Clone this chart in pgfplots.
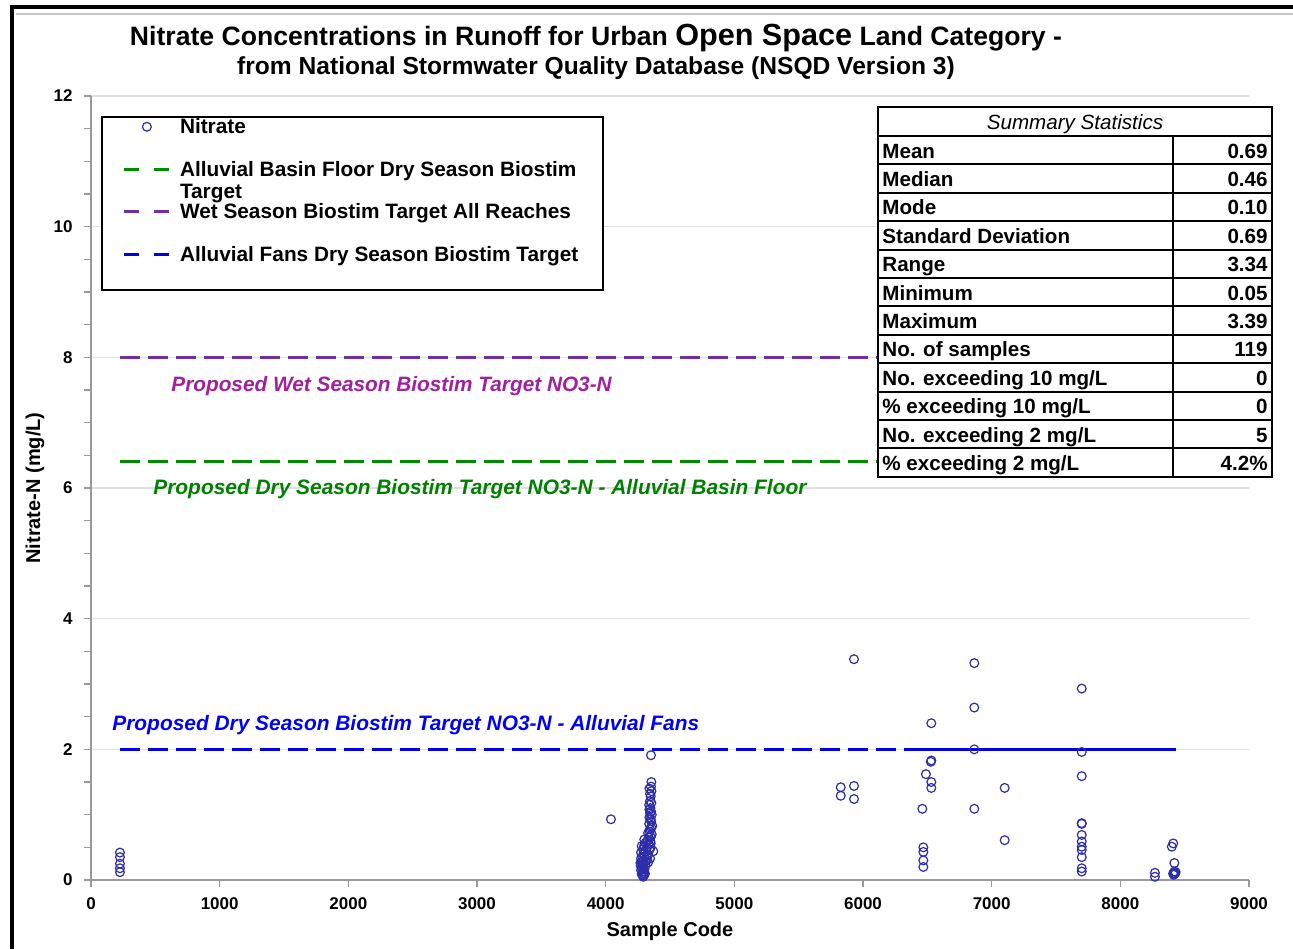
\documentclass[border=0pt]{standalone}
\usepackage{pgfplots}
\pgfplotsset{compat=1.18}
\usepackage{fontspec}
\setmainfont{Liberation Sans}
\definecolor{mk}{RGB}{45,45,170}
\definecolor{pline}{RGB}{112,48,160}
\definecolor{ptext}{RGB}{160,32,160}
\definecolor{gline}{RGB}{0,140,0}
\definecolor{gtext}{RGB}{0,128,0}
\definecolor{bline}{RGB}{0,0,230}
\definecolor{btext}{RGB}{0,0,255}
\newcommand\lgE[1]{\makebox[201pt][l]{\rule{0pt}{8.5pt}#1}}
\pgfplotsset{
  dashleg/.style={legend image code/.code={\draw[##1, dash pattern=on 7.5pt off 7.5pt] (0pt,0pt) -- (22.5pt,0pt);}},
  markleg/.style={legend image code/.code={\path[draw=none, fill=none] (0pt,0pt) -- (22.5pt,0pt); \draw[##1, draw=none] plot coordinates {(11.25pt,0pt)};}},
}
\begin{document}
\begin{tikzpicture}
\path[use as bounding box] (0,0) rectangle (646.5pt,-474.5pt);
\begin{axis}[
  at={(45.5pt,-440pt)}, anchor=south west,
  scale only axis, width=579pt, height=392pt,
  xmin=0, xmax=9000, ymin=0, ymax=12,
  axis lines*=left,
  axis line style={draw=gray!80, line width=0.8pt},
  tick align=outside,
  tick style={draw=gray!80, line width=0.6pt},
  major tick length=3.5pt, minor tick length=3.5pt,
  xtick={0,1000,...,9000}, ytick={0,2,...,12}, minor y tick num=3,
  ymajorgrids, grid style={draw=gray!25, line width=0.6pt},
  /pgf/number format/assume math mode=true,
  /pgf/number format/1000 sep={},
  xticklabel style={font=\bfseries\fontsize{8.5}{10}\selectfont, yshift=-2pt},
  yticklabel style={font=\bfseries\fontsize{8.5}{10}\selectfont, xshift=-2.2pt},
  xlabel={Sample Code}, ylabel={Nitrate-N (mg/L)},
  xlabel style={at={(axis description cs:0.5,-0.066)}, anchor=center, font=\bfseries\fontsize{10}{12}\selectfont},
  ylabel style={at={(axis description cs:-0.0484,0.5)}, anchor=center, font=\bfseries\fontsize{10}{12}\selectfont},
  legend style={at={(rel axis cs:0.00864,0.9745)}, anchor=north west, draw=black, line width=0.8pt, fill=white,
    font=\bfseries\fontsize{10.4}{12}\selectfont, inner xsep=10.5pt, inner ysep=0pt, row sep=11.25pt, column sep=4.5pt,
    nodes={inner sep=0pt}},
  legend cell align=left,
]
\addplot[only marks, mark=o, mark size=2.2pt, mark options={draw=mk, line width=0.6pt}, markleg]
 table[row sep=\\] {
x y\\
225 0.42\\ 225 0.35\\ 225 0.25\\ 225 0.18\\ 225 0.12\\
4041 0.93\\
4352 1.91\\ 4355 1.50\\ 4352 1.43\\ 4356 1.36\\ 4350 1.28\\ 4345 1.21\\ 4338 1.15\\ 4348 1.10\\ 4352 1.05\\ 4358 1.00\\
4340 0.96\\ 4352 0.90\\ 4362 0.83\\ 4345 0.78\\ 4358 0.70\\ 4335 0.65\\ 4300 0.62\\ 4348 0.59\\ 4280 0.52\\ 4320 0.49\\
4370 0.44\\ 4295 0.41\\ 4285 0.35\\ 4320 0.31\\ 4270 0.26\\ 4292 0.20\\ 4285 0.13\\ 4292 0.05\\
4340 1.40\\ 4345 1.32\\ 4355 1.18\\ 4340 1.08\\ 4345 1.02\\ 4350 0.93\\ 4338 0.86\\ 4355 0.80\\ 4342 0.74\\ 4330 0.72\\
4350 0.66\\ 4325 0.60\\ 4310 0.57\\ 4335 0.55\\ 4300 0.53\\ 4350 0.50\\ 4290 0.47\\ 4340 0.46\\ 4310 0.44\\ 4275 0.42\\
4330 0.38\\ 4300 0.36\\ 4275 0.33\\ 4345 0.33\\ 4310 0.29\\ 4282 0.28\\ 4298 0.25\\ 4272 0.22\\ 4310 0.22\\ 4282 0.18\\
4300 0.16\\ 4275 0.15\\ 4295 0.11\\ 4280 0.09\\ 4300 0.08\\ 4288 0.07\\ 4295 0.30\\ 4318 0.38\\ 4350 0.56\\ 4305 0.10\\
4330 0.27\\ 4285 0.24\\
5827 1.42\\ 5827 1.29\\ 5930 1.44\\ 5930 1.24\\ 5930 3.38\\
6531 2.40\\ 6531 1.83\\ 6527 1.81\\ 6489 1.62\\ 6531 1.50\\ 6531 1.41\\ 6461 1.09\\ 6469 0.50\\ 6469 0.43\\ 6469 0.30\\ 6469 0.20\\
6865 3.32\\ 6865 2.64\\ 6865 2.00\\ 6865 1.09\\
7101 1.41\\ 7101 0.61\\
7700 2.93\\ 7700 1.96\\ 7700 1.59\\ 7700 0.87\\ 7700 0.86\\ 7700 0.69\\ 7700 0.59\\ 7700 0.51\\ 7700 0.46\\ 7700 0.35\\ 7700 0.18\\ 7700 0.13\\
8269 0.11\\ 8269 0.05\\
8411 0.56\\ 8400 0.51\\ 8420 0.26\\ 8420 0.13\\ 8410 0.10\\ 8425 0.10\\ 8415 0.08\\ 8430 0.12\\ 8420 0.10\\
};
\addlegendentry{\lgE{Nitrate}}
\addplot[gline, line width=1.6pt, dash pattern=on 10pt off 4pt, dashleg]
  coordinates {(225,6.4) (8425,6.4)};
\addlegendentry{\lgE{\smash{\begin{tabular}[t]{@{}l@{}}Alluvial Basin Floor Dry Season Biostim\\[-1pt]Target\end{tabular}}}}
\addplot[pline, line width=1.6pt, dash pattern=on 10pt off 4pt, dashleg]
  coordinates {(225,8) (8425,8)};
\addlegendentry{\lgE{Wet Season Biostim Target All Reaches}}
\addplot[bline, line width=1.6pt, dash pattern=on 10pt off 4pt, dashleg]
  coordinates {(225,2) (8440,2)};
\addlegendentry{\lgE{Alluvial Fans Dry Season Biostim Target}}
\addlegendimage{empty legend}
\addlegendentry{}
\addplot[bline, line width=1.6pt, forget plot] coordinates {(6390,2) (8310,2)};
\end{axis}
\begin{scope}[x=0.5pt,y=-0.5pt]
% frame
\draw[line width=2pt] (11.5,949) -- (11.5,6.5) -- (1293,6.5);
\draw[gray!45, line width=1pt] (16,14) -- (1293,14);
% title
\node[anchor=base, font=\bfseries\fontsize{13.3}{15}\selectfont] at (596,45)
  {Nitrate Concentrations in Runoff for Urban {\fontsize{15.3}{15}\selectfont Open Space} Land Category -};
\node[anchor=base, font=\bfseries\fontsize{12.3}{14}\selectfont] at (596,74)
  {from National Stormwater Quality Database (NSQD Version 3)};
% annotations
\node[anchor=base west, inner sep=0pt, text=ptext, font=\bfseries\itshape\fontsize{10.4}{12}\selectfont] at (171,391)
  {Proposed Wet Season Biostim Target NO3-N};
\node[anchor=base west, inner sep=0pt, text=gtext, font=\bfseries\itshape\fontsize{10.45}{12}\selectfont] at (153,494)
  {Proposed Dry Season Biostim Target NO3-N - Alluvial Basin Floor};
\node[anchor=base west, inner sep=0pt, text=btext, font=\bfseries\itshape\fontsize{10.45}{12}\selectfont] at (112,730)
  {Proposed Dry Season Biostim Target NO3-N - Alluvial Fans};
% table
\fill[white] (878,107) rectangle (1272,477);
\draw[line width=1pt] (878,107) rectangle (1272,477);
\draw[line width=1pt] (1173,136) -- (1173,477);
\foreach \i in {0,...,11} {
  \draw[line width=1pt] (878,{136+28.4*\i}) -- (1272,{136+28.4*\i});
}
\node[anchor=base, inner sep=0pt, font=\itshape\fontsize{10.3}{12}\selectfont] at (1075,129) {Summary Statistics};
\foreach \lab/\val [count=\i from 0] in {Mean/0.69, Median/0.46, Mode/0.10, Standard Deviation/0.69, Range/3.34,
   Minimum/0.05, Maximum/3.39, No. of samples/119, No. exceeding 10 mg{/}L/0, \% exceeding 10 mg{/}L/0,
   No. exceeding 2 mg{/}L/5, \% exceeding 2 mg{/}L/4.2\%} {
  \node[anchor=base west, inner sep=0pt, font=\bfseries\fontsize{10.3}{12}\selectfont] at (882,{158+28.4*\i}) {\lab};
  \node[anchor=base east, inner sep=0pt, font=\bfseries\fontsize{10.3}{12}\selectfont] at (1268,{158+28.4*\i}) {\val};
}
\end{scope}
\end{tikzpicture}
\end{document}
